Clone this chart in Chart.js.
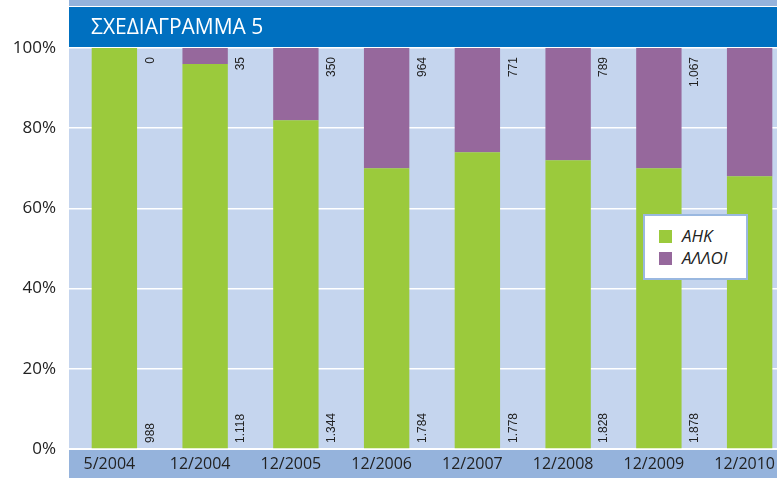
<!DOCTYPE html>
<html>
<head>
<meta charset="utf-8">
<script src="https://cdn.jsdelivr.net/npm/chart.js@4/dist/chart.umd.min.js"></script>
<style>
	html, body { margin: 0; padding: 0; background: #fff; overflow: hidden; }
	#wrap { position: relative; width: 795px; height: 478px; }
	#legend {
		position: absolute; left: 643px; top: 214px; width: 105px; height: 66px;
		box-sizing: border-box; background: #fff; border: 2px solid #9ab8e0;
		font-family: "Open Sans", sans-serif; font-style: italic; font-size: 17px; color: #222;
	}
	#legend .item { position: absolute; left: 14px; height: 13px; }
	#legend .box { position: absolute; left: 0; top: 0; width: 13px; height: 13px; }
	#legend .txt { position: absolute; left: 23px; top: -4px; line-height: 20px; white-space: nowrap; }
</style>
</head>
<body>
<div id="wrap">
	<canvas id="chart"></canvas>
	<div id="legend"></div>
</div>
<script>
const title = "ΣΧΕΔΙΑΓΡΑΜΜΑ 5";
const labels = ["5/2004", "12/2004", "12/2005", "12/2006", "12/2007", "12/2008", "12/2009", "12/2010"];
const ahkPct = [100, 96, 82, 70, 74, 72, 70, 68];
const alloiPct = [0, 4, 18, 30, 26, 28, 30, 32];
// counts printed next to the bars (last column is cut off in the picture)
const ahkCount = [988, 1118, 1344, 1784, 1778, 1828, 1878, null];
const alloiCount = [0, 35, 350, 964, 771, 789, 1067, null];
const yTicks = [0, 20, 40, 60, 80, 100];

const green = "#9bca3c";
const purple = "#96689c";

const fmt = (n) => String(n).replace(/\B(?=(\d{3})+(?!\d))/g, ".");

const backdrop = {
	id: "backdrop",
	beforeDraw(chart) {
		const { ctx, chartArea: a, width, height } = chart;
		ctx.save();
		ctx.fillStyle = "#95b3dc";
		ctx.fillRect(a.left, 0, width - a.left, 6);
		ctx.fillStyle = "#0070c0";
		ctx.fillRect(a.left, 7, width - a.left, a.top - 8);
		ctx.fillStyle = "#c5d5ee";
		ctx.fillRect(a.left, a.top, width - a.left, a.bottom - a.top);
		ctx.fillStyle = "#95b3dc";
		ctx.fillRect(a.left, a.bottom + 1, width - a.left, height - a.bottom);
		ctx.fillStyle = "#fff";
		ctx.font = "21px 'Open Sans'";
		ctx.textBaseline = "alphabetic";
		ctx.fillText(title, 91, 34);
		ctx.restore();
	},
};

const countLabels = {
	id: "countLabels",
	afterDatasetsDraw(chart) {
		const { ctx } = chart;
		const x = chart.scales.x;
		ctx.save();
		ctx.font = "12px 'Liberation Sans'";
		ctx.fillStyle = "#222";
		ctx.textBaseline = "middle";
		labels.forEach((l, i) => {
			const px = x.getPixelForValue(i) + 36;
			if (alloiCount[i] != null) {
				ctx.save();
				ctx.translate(px, 57);
				ctx.rotate(-Math.PI / 2);
				ctx.textAlign = "right";
				ctx.fillText(fmt(alloiCount[i]), 0, 0);
				ctx.restore();
			}
			if (ahkCount[i] != null) {
				ctx.save();
				ctx.translate(px, 443);
				ctx.rotate(-Math.PI / 2);
				ctx.textAlign = "left";
				ctx.fillText(fmt(ahkCount[i]), 0, 0);
				ctx.restore();
			}
		});
		ctx.restore();
	},
};

const chart = new Chart("chart", {
	type: "bar",
	data: {
		labels: labels,
		datasets: [
			{ label: "ΑΗΚ", data: ahkPct, backgroundColor: green },
			{ label: "ΑΛΛΟΙ", data: alloiPct, backgroundColor: purple },
		],
	},
	options: {
		responsive: true,
		maintainAspectRatio: false,
		animation: false,
		layout: { padding: { top: 48, left: 0, right: 0, bottom: 0 } },
		datasets: { bar: { barPercentage: 0.5, categoryPercentage: 1.0 } },
		plugins: {
			legend: { display: false },
			tooltip: { enabled: false },
		},
		scales: {
			x: {
				stacked: true,
				grid: { display: false, drawTicks: false },
				border: { display: false },
				ticks: {
					color: "#222",
					font: { family: "'Open Sans'", size: 16 },
					padding: 6,
					labelOffset: -5,
					maxRotation: 0,
					autoSkip: false,
				},
				afterFit(scale) { scale.height = 29; },
			},
			y: {
				stacked: true,
				min: 0,
				max: 100,
				afterBuildTicks(scale) { scale.ticks = yTicks.map(v => ({ value: v })); },
				grid: { color: "#fff", lineWidth: 1.5, drawTicks: false },
				border: { display: false },
				ticks: {
					color: "#222",
					font: { family: "'Open Sans'", size: 17 },
					padding: 13,
					callback: (v) => v + "%",
				},
				afterFit(scale) { scale.width = 69; },
			},
		},
	},
	plugins: [backdrop, countLabels],
});

// legend box drawn as html from the datasets
const legendEl = document.getElementById("legend");
chart.data.datasets.forEach((ds, i) => {
	const item = document.createElement("div");
	item.className = "item";
	item.style.top = (14 + i * 22) + "px";
	item.innerHTML = '<span class="box" style="background:' + ds.backgroundColor + '"></span><span class="txt">' + ds.label + '</span>';
	legendEl.appendChild(item);
});
</script>
</body>
</html>
